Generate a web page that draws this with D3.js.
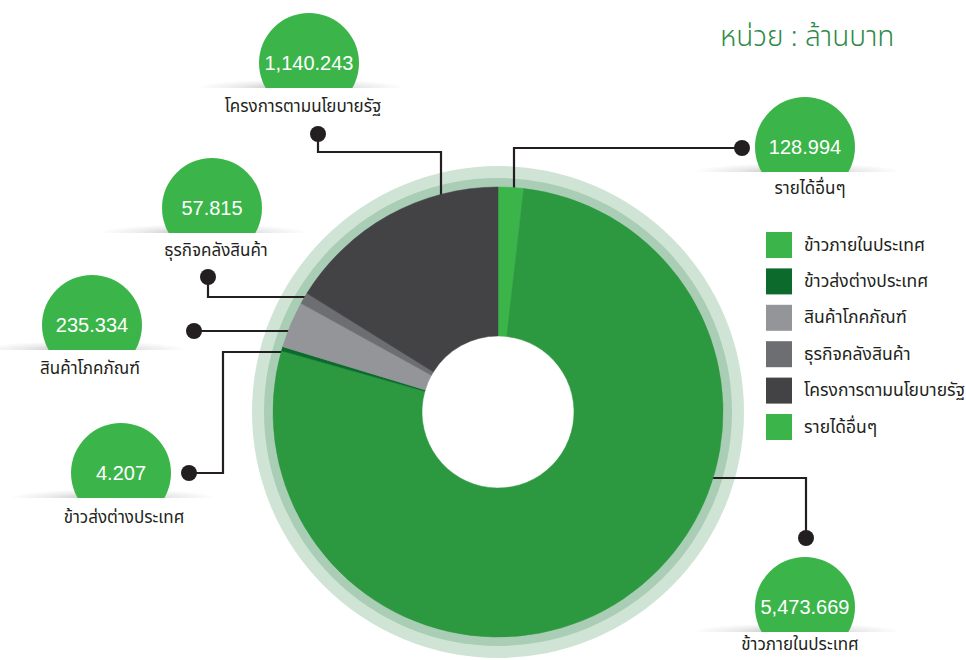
<!DOCTYPE html>
<html>
<head>
<meta charset="utf-8">
<script src="https://cdn.jsdelivr.net/npm/d3@7/dist/d3.min.js"></script>
<style>
  html, body { margin: 0; padding: 0; background: #ffffff; }
  svg { display: block; }
</style>
</head>
<body>
<svg id="chart" width="966" height="660"></svg>
<script>
// ---------- data ----------
const categories = ["ข้าวภายในประเทศ", "ข้าวส่งต่างประเทศ", "สินค้าโภคภัณฑ์", "ธุรกิจคลังสินค้า", "โครงการตามนโยบายรัฐ", "รายได้อื่นๆ"];
const values = [5473.669, 4.207, 235.334, 57.815, 1140.243, 128.994];
const valueLabels = ["5,473.669", "4.207", "235.334", "57.815", "1,140.243", "128.994"];
const sliceColors = ["#2c983f", "#0b6a2c", "#939598", "#6d6e71", "#434345", "#3bb54a"];
const legendColors = ["#3bb54a", "#0b6a2c", "#939598", "#6d6e71", "#434345", "#3bb54a"];
const pieOrder = [5, 0, 1, 2, 3, 4];
const unitTitle = "หน่วย : ล้านบาท";

// ---------- layout (annotation positions) ----------
const THAI = "'Noto Sans Thai', 'Noto Sans', 'DejaVu Sans', sans-serif";
const LATIN = "'Liberation Sans', Arial, Helvetica, sans-serif";
const center = { x: 498, y: 412 };
const R = 225, R_HOLE = 76, R_RING1 = 234, R_RING2 = 246;
const annot = [
  { bx: 805, by: 607, lx: 800, ly: 645, dot: [806, 538], bends: [[806, 478]], end: { h: 478, side: 1 } },
  { bx: 121, by: 473, lx: 124, ly: 518, dot: [189, 473], bends: [[223, 473], [223, 352]], end: { h: 352, side: -1 } },
  { bx: 92,  by: 325, lx: 90,  ly: 369, dot: [194, 331], bends: [], end: { h: 331, side: -1 } },
  { bx: 212, by: 208, lx: 216, ly: 251, dot: [208, 277], bends: [[208, 297]], end: { h: 297, side: -1 } },
  { bx: 309, by: 63,  lx: 303, ly: 107, dot: [318, 134], bends: [[318, 152], [441, 152]], end: { v: 441 } },
  { bx: 805, by: 147, lx: 810, ly: 189, dot: [742, 148], bends: [[514, 148]], end: { v: 514 } }
];

const svg = d3.select("#chart");
const defs = svg.append("defs");

// shadow gradient
const sg = defs.append("radialGradient").attr("id", "shadowGrad");
sg.append("stop").attr("offset", "0%").attr("stop-color", "#000").attr("stop-opacity", 0.28);
sg.append("stop").attr("offset", "60%").attr("stop-color", "#000").attr("stop-opacity", 0.08);
sg.append("stop").attr("offset", "100%").attr("stop-color", "#000").attr("stop-opacity", 0);

// ---------- title ----------
svg.append("text")
  .attr("x", 720).attr("y", 46)
  .style("font-family", THAI)
  .attr("font-size", 28).attr("font-weight", 300)
  .attr("fill", "#2e8b46")
  .text(unitTitle);

// ---------- rings ----------
const g = svg.append("g").attr("transform", `translate(${center.x},${center.y})`);
g.append("circle").attr("r", R_RING2).attr("fill", "#d0e4d6");
g.append("circle").attr("r", R_RING1).attr("fill", "#a9cdb5");

// ---------- leader lines (drawn under the pie) ----------
function edgePoint(end) {
  if (end.v !== undefined) {
    const dx = end.v - center.x;
    return [end.v, center.y - Math.sqrt(R * R - dx * dx) + 3];
  }
  const dy = end.h - center.y;
  return [center.x + end.side * (Math.sqrt(R * R - dy * dy) - 3), end.h];
}
const lineGen = d3.line();
categories.forEach((c, i) => {
  const a = annot[i];
  const pts = [a.dot, ...a.bends, edgePoint(a.end)];
  svg.append("path")
    .attr("d", lineGen(pts))
    .attr("fill", "none").attr("stroke", "#231f20").attr("stroke-width", 2.2);
  svg.append("circle")
    .attr("cx", a.dot[0]).attr("cy", a.dot[1]).attr("r", 8)
    .attr("fill", "#231f20");
});

// ---------- pie ----------
const total = d3.sum(values);
const pieData = pieOrder.map(i => ({ i, v: values[i] }));
const pie = d3.pie().sort(null).value(d => Math.max(d.v, total * 0.003));
const arc = d3.arc().innerRadius(R_HOLE).outerRadius(R);
const pg = svg.append("g").attr("transform", `translate(${center.x},${center.y})`);
pg.append("circle").attr("r", R_HOLE + 1).attr("fill", "#ffffff");
pg.selectAll("path.slice")
  .data(pie(pieData))
  .join("path")
  .attr("class", "slice")
  .attr("d", arc)
  .attr("fill", d => sliceColors[d.data.i])
  .attr("stroke", d => sliceColors[d.data.i])
  .attr("stroke-width", 0.5);

// ---------- bubbles ----------
const BR = 50, CUT = 25;
categories.forEach((c, i) => {
  const a = annot[i];
  const cid = "clip" + i;
  defs.append("clipPath").attr("id", cid)
    .append("rect").attr("x", a.bx - 140).attr("y", a.by - 80).attr("width", 280).attr("height", 80 + CUT);
  const bg = svg.append("g").attr("clip-path", `url(#${cid})`);
  bg.append("ellipse")
    .attr("cx", a.bx - 8).attr("cy", a.by + CUT).attr("rx", 105).attr("ry", 9)
    .attr("fill", "url(#shadowGrad)");
  bg.append("circle")
    .attr("cx", a.bx).attr("cy", a.by).attr("r", BR)
    .attr("fill", "#3bb54a");
  svg.append("text")
    .attr("x", a.bx).attr("y", a.by)
    .attr("text-anchor", "middle").attr("dominant-baseline", "central")
    .style("font-family", LATIN)
    .attr("font-size", 20).attr("fill", "#ffffff")
    .text(valueLabels[i]);
  svg.append("text")
    .attr("x", a.lx).attr("y", a.ly)
    .attr("text-anchor", "middle").attr("dominant-baseline", "central")
    .style("font-family", THAI)
    .attr("font-size", 17).attr("fill", "#231f20")
    .text(c);
});

// ---------- legend ----------
const lg = svg.append("g").attr("transform", "translate(766,232)");
const items = lg.selectAll("g.item").data(categories).join("g")
  .attr("class", "item")
  .attr("transform", (d, i) => `translate(0,${i * 36.4})`);
items.append("rect").attr("width", 26).attr("height", 26)
  .attr("fill", (d, i) => legendColors[i]);
items.append("text").attr("x", 38).attr("y", 13)
  .attr("dominant-baseline", "central")
  .style("font-family", THAI)
  .attr("font-size", 17.5).attr("fill", "#231f20")
  .text(d => d);
</script>
</body>
</html>
